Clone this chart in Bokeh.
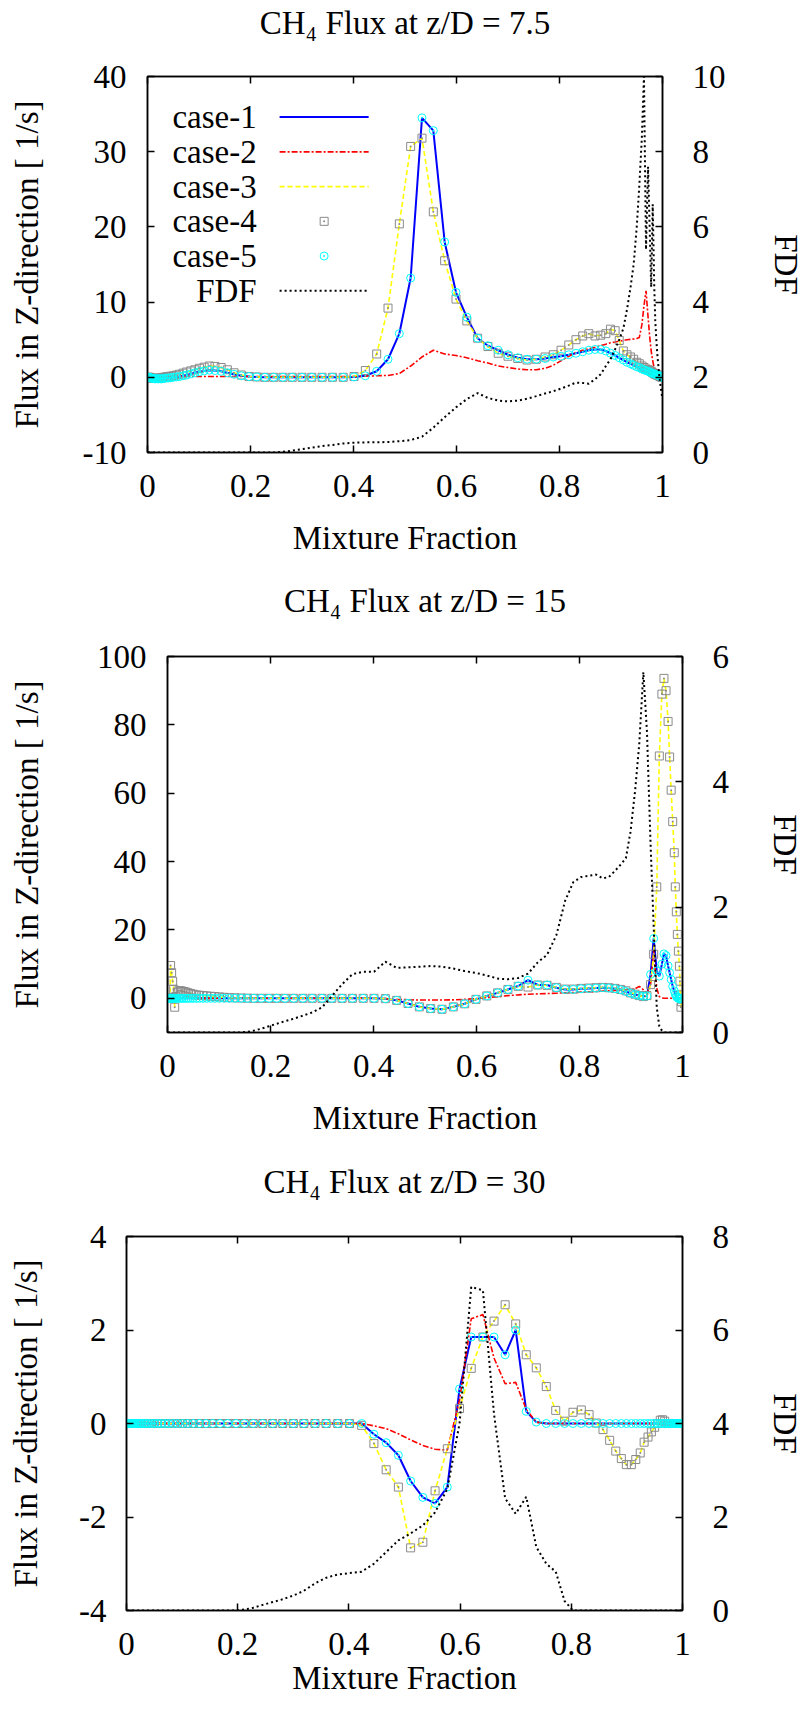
import math
from bokeh.plotting import figure
from bokeh.models import Range1d, LinearAxis, FixedTicker, NumeralTickFormatter, ColumnDataSource, Title
from bokeh.embed import file_html
from bokeh.resources import INLINE
from bokeh.core.properties import value

FONT = "'Liberation Serif'"
FS = "33px"

# ---------------- data ----------------
mix_frac = [
    0.001, 0.002, 0.003, 0.004, 0.005, 0.006, 0.008, 0.010, 0.012, 0.014,
    0.016, 0.019, 0.022, 0.025, 0.028, 0.032, 0.036, 0.040, 0.045, 0.050,
    0.056, 0.062, 0.069, 0.076, 0.084, 0.092, 0.101, 0.110, 0.120, 0.131,
    0.143, 0.155, 0.168, 0.182, 0.197, 0.212, 0.228, 0.245, 0.263, 0.281,
    0.300, 0.319, 0.339, 0.359, 0.380, 0.401, 0.423, 0.445, 0.467, 0.489,
    0.511, 0.533, 0.555, 0.577, 0.599, 0.620, 0.641, 0.661, 0.681, 0.700,
    0.719, 0.737, 0.755, 0.772, 0.788, 0.803, 0.818, 0.832, 0.845, 0.857,
    0.869, 0.880, 0.890, 0.899, 0.908, 0.916, 0.924, 0.931, 0.938, 0.944,
    0.950, 0.955, 0.960, 0.964, 0.968, 0.972, 0.975, 0.978, 0.981, 0.984,
    0.986, 0.988, 0.990, 0.992, 0.994, 0.995, 0.996, 0.997, 0.998, 0.999,
]

# z/D = 7.5
p1_case1 = [
    0, 0, 0, -0.05, -0.05, -0.1, -0.1, -0.15, -0.15, -0.2,
    -0.2, -0.2, -0.2, -0.2, -0.2, -0.15, -0.1, -0.1, -0.05, 0.0,
    0.05, 0.1, 0.2, 0.3, 0.45, 0.6, 0.75, 0.85, 0.95, 0.9,
    0.8, 0.6, 0.4, 0.2, 0.1, 0.05, 0, 0, 0, 0,
    0, 0, 0, 0, 0, 0.05, 0.2, 0.8, 2.4, 5.8,
    13.2, 34.5, 32.8, 18.0, 11.3, 8.0, 5.2, 4.2, 3.6, 3.0,
    2.6, 2.4, 2.4, 2.5, 2.7, 2.8, 3.0, 3.2, 3.4, 3.6,
    3.7, 3.7, 3.5, 3.2, 2.9, 2.6, 2.3, 2.0, 1.8, 1.6,
    1.4, 1.3, 1.1, 1.0, 0.9, 0.8, 0.7, 0.6, 0.5, 0.45,
    0.4, 0.35, 0.3, 0.25, 0.2, 0.15, 0.12, 0.08, 0.05, 0.0,
]
p1_case2 = [
    0, 0, 0, 0, 0, 0, 0, 0, 0.05, 0.05,
    0.05, 0.05, 0.1, 0.1, 0.1, 0.1, 0.1, 0.1, 0.1, 0.1,
    0.1, 0.1, 0.1, 0.1, 0.1, 0.1, 0.1, 0.1, 0.1, 0.1,
    0.1, 0.1, 0.1, 0.1, 0.1, 0.1, 0.1, 0.1, 0.1, 0.1,
    0.1, 0.1, 0.1, 0.1, 0.1, 0.1, 0.15, 0.2, 0.25, 0.5,
    1.5, 2.7, 3.6, 3.1, 2.9, 2.6, 2.2, 1.9, 1.5, 1.3,
    1.1, 1.0, 1.0, 1.2, 1.6, 2.2, 2.8, 3.3, 3.6, 3.8,
    4.0, 4.2, 4.4, 4.6, 4.7, 4.8, 4.9, 5.0, 5.05, 5.1,
    5.15, 5.3, 7.0, 9.5, 11.5, 8.0, 5.5, 3.5, 2.2, 1.2,
    0.8, 0.5, 0.3, 0.2, 0.15, 0.1, 0.05, 0, 0, 0,
]
p1_case3 = [
    0, 0, 0, -0.05, -0.05, -0.1, -0.1, -0.15, -0.15, -0.15,
    -0.15, -0.15, -0.1, -0.1, -0.05, 0.0, 0.05, 0.1, 0.15, 0.2,
    0.3, 0.4, 0.55, 0.7, 0.85, 1.0, 1.2, 1.35, 1.5, 1.45,
    1.3, 1.0, 0.6, 0.3, 0.1, 0.05, 0, 0, 0, 0,
    0, 0, 0, 0, 0, 0.1, 0.9, 3.1, 9.2, 20.4,
    30.7, 31.8, 22.0, 15.5, 10.4, 7.5, 5.2, 4.1, 3.2, 2.8,
    2.5, 2.3, 2.4, 2.7, 3.0, 3.6, 4.3, 5.0, 5.5, 5.8,
    5.5, 5.6, 5.8, 6.4, 6.2, 4.9, 3.5, 3.0, 2.7, 2.4,
    2.0, 1.8, 1.5, 1.3, 1.1, 1.0, 0.9, 0.8, 0.6, 0.5,
    0.4, 0.35, 0.3, 0.25, 0.2, 0.15, 0.1, 0.08, 0.05, 0.0,
]
p1_case4 = list(p1_case3)
p1_case5 = list(p1_case1)
p1_fdf = [
    0, 0, 0, 0, 0, 0, 0, 0, 0, 0,
    0, 0, 0, 0, 0, 0, 0, 0, 0, 0,
    0, 0, 0, 0, 0, 0, 0, 0, 0, 0,
    0, 0, 0, 0, 0, 0, 0, 0, 0.02, 0.05,
    0.09, 0.13, 0.17, 0.2, 0.24, 0.26, 0.27, 0.27, 0.28, 0.3,
    0.33, 0.42, 0.66, 0.94, 1.2, 1.42, 1.58, 1.45, 1.38, 1.36,
    1.38, 1.43, 1.5, 1.57, 1.63, 1.7, 1.78, 1.86, 1.85, 1.83,
    1.95, 2.08, 2.3, 2.48, 2.75, 3.0, 3.3, 3.8, 4.4, 5.0,
    6.0, 7.1, 8.4, 10.0, 5.4, 7.6, 6.0, 4.4, 6.6, 4.4,
    3.5, 3.0, 2.6, 2.3, 2.0, 1.9, 1.8, 1.7, 1.6, 1.5,
]

# z/D = 15
p2_case1 = [
    0, 0, 0, 0, 0, 0, 0, 0, 0, 0,
    0, 0, 0, 0, 0, 0, 0, 0, 0, 0,
    0, 0, 0, 0, 0, 0, 0, 0, 0, 0,
    0, 0, 0, 0, 0, 0, 0, 0, 0, 0,
    0, 0, 0, 0, 0, 0, -0.1, -0.6, -1.5, -2.5,
    -3.0, -3.2, -2.5, -1.6, -0.3, 0.7, 1.6, 2.6, 3.6, 5.3,
    3.9, 3.9, 3.1, 2.6, 2.6, 2.8, 2.9, 3.0, 3.1, 3.0,
    2.8, 2.5, 2.0, 1.5, 1.1, 0.8, 0.6, 0.7, 7.0, 17.5,
    8.0, 6.5, 10.0, 13.0, 12.5, 9.5, 7.5, 5.5, 3.5, 2.2,
    1.2, 0.6, 0.2, 0.0, -0.2, -0.1, 0, 0, 0, 0,
]
p2_case2 = [
    0, 0, 0, 0, 0, 0, 0, 0, 0, 0,
    0, 0, 0, 0, 0, 0, 0, 0, 0, 0,
    0, 0, 0, 0, 0, 0, 0, 0, 0, 0,
    0, 0, 0, 0, 0, 0, 0, 0, 0, 0,
    0, 0, 0, 0, 0, 0, -0.1, -0.3, -0.4, -0.5,
    -0.5, -0.5, -0.45, -0.3, -0.1, 0.2, 0.5, 0.8, 1.0, 1.2,
    1.3, 1.4, 1.5, 1.6, 1.7, 1.8, 1.9, 2.0, 2.1, 2.2,
    2.3, 2.4, 2.5, 2.6, 2.8, 3.5, 2.5, 1.5, 4.0, 14.0,
    3.0, 0.5, 0.1, 0, 0, 0, 0, 0, 0, 0,
    0, 0, 0, 0, 0, 0, 0, 0, 0, 0,
]
p2_case3 = [
    0, 0, 0, 0, 0, 9.6, 7.5, 5.0, 2.6, -2.6,
    0.5, 1.8, 2.2, 2.2, 2.1, 2.0, 1.8, 1.6, 1.4, 1.2,
    1.0, 0.9, 0.8, 0.7, 0.6, 0.5, 0.4, 0.3, 0.2, 0.15,
    0.1, 0.05, 0, 0, 0, 0, 0, 0, 0, 0,
    0, 0, 0, 0, 0, 0, -0.1, -0.6, -1.5, -2.5,
    -3.0, -3.2, -2.5, -1.6, -0.3, 0.7, 1.6, 2.6, 3.5, 3.3,
    3.9, 3.8, 3.2, 2.7, 2.7, 2.9, 3.0, 3.1, 3.2, 3.1,
    2.9, 2.6, 2.2, 1.6, 1.2, 0.8, 0.5, 0.8, 4.0, 12.9,
    32.6, 70.9, 89.0, 93.6, 90.0, 81.0, 70.6, 60.9, 51.7, 42.6,
    32.6, 25.3, 18.7, 13.8, 9.4, 5.0, 1.0, -2.6, -1.0, 0.0,
]
p2_case4 = list(p2_case3)
p2_case5 = list(p2_case1)
p2_fdf = [
    0, 0, 0, 0, 0, 0, 0, 0, 0, 0,
    0, 0, 0, 0, 0, 0, 0, 0, 0, 0,
    0, 0, 0, 0, 0, 0, 0, 0, 0, 0,
    0, 0.01, 0.03, 0.06, 0.1, 0.14, 0.18, 0.22, 0.27, 0.32,
    0.4, 0.58, 0.77, 0.93, 0.97, 0.97, 1.13, 1.03, 1.04, 1.05,
    1.06, 1.05, 1.02, 0.98, 0.95, 0.91, 0.86, 0.85, 0.87, 0.94,
    1.12, 1.24, 1.55, 2.1, 2.4, 2.48, 2.5, 2.52, 2.46, 2.48,
    2.58, 2.68, 2.78, 3.2, 3.86, 4.6, 5.75, 4.8, 3.0, 1.7,
    0.4, 0.1, 0.03, 0, 0, 0, 0, 0, 0, 0,
    0, 0, 0, 0, 0, 0, 0, 0, 0, 0,
]

# z/D = 30
p3_case1 = [
    0, 0, 0, 0, 0, 0, 0, 0, 0, 0,
    0, 0, 0, 0, 0, 0, 0, 0, 0, 0,
    0, 0, 0, 0, 0, 0, 0, 0, 0, 0,
    0, 0, 0, 0, 0, 0, 0, 0, 0, 0,
    0, 0, 0, 0, 0, 0, 0, -0.23, -0.41, -0.68,
    -1.23, -1.58, -1.71, -1.36, 0.74, 1.85, 1.85, 1.85, 1.47, 2.0,
    0.26, 0.03, 0, 0, 0, 0, 0, 0, 0, 0,
    0, 0, 0, 0, 0, 0, 0, 0, 0, 0,
    0, 0, 0, 0, 0, 0, 0, 0, 0, 0,
    0, 0, 0, 0, 0, 0, 0, 0, 0, 0,
]
p3_case2 = [
    0, 0, 0, 0, 0, 0, 0, 0, 0, 0,
    0, 0, 0, 0, 0, 0, 0, 0, 0, 0,
    0, 0, 0, 0, 0, 0, 0, 0, 0, 0,
    0, 0, 0, 0, 0, 0, 0, 0, 0, 0,
    0, 0, 0, 0, 0, 0, 0, -0.05, -0.11, -0.22,
    -0.35, -0.47, -0.55, -0.57, 0.5, 2.24, 2.33, 1.4, 0.85, 0.88,
    0.3, 0.03, 0, 0, 0, 0, 0, 0, 0, 0,
    0, 0, 0, 0, 0, 0, 0, 0, 0, 0,
    0, 0, 0, 0, 0, 0, 0, 0, 0, 0,
    0, 0, 0, 0, 0, 0, 0, 0, 0, 0,
]
p3_case3 = [
    0, 0, 0, 0, 0, 0, 0, 0, 0, 0,
    0, 0, 0, 0, 0, 0, 0, 0, 0, 0,
    0, 0, 0, 0, 0, 0, 0, 0, 0, 0,
    0, 0, 0, 0, 0, 0, 0, 0, 0, 0,
    0, 0, 0, 0, 0, 0, -0.04, -0.43, -0.99, -1.36,
    -2.66, -2.54, -1.44, -0.54, 0.32, 1.18, 1.85, 2.19, 2.54, 2.13,
    1.47, 1.19, 0.79, 0.28, 0.05, 0.24, 0.29, 0.19, 0.01, -0.13,
    -0.36, -0.59, -0.75, -0.88, -0.88, -0.77, -0.63, -0.4, -0.29, -0.18,
    -0.08, 0.0, 0.07, 0.08, 0.05, 0, 0, 0, 0, 0,
    0, 0, 0, 0, 0, 0, 0, 0, 0, 0,
]
p3_case4 = list(p3_case3)
p3_case5 = list(p3_case1)
p3_fdf = [
    0, 0, 0, 0, 0, 0, 0, 0, 0, 0,
    0, 0, 0, 0, 0, 0, 0, 0, 0, 0,
    0, 0, 0, 0, 0, 0, 0, 0, 0, 0,
    0, 0, 0, 0, 0, 0.02, 0.06, 0.12, 0.18, 0.24,
    0.32, 0.42, 0.58, 0.7, 0.77, 0.8, 0.83, 1.0, 1.25, 1.5,
    1.65, 1.82, 2.1, 2.6, 4.0, 6.92, 6.85, 4.2, 2.4, 2.07,
    2.43, 1.36, 1.0, 0.83, 0.2, 0, 0, 0, 0, 0,
    0, 0, 0, 0, 0, 0, 0, 0, 0, 0,
    0, 0, 0, 0, 0, 0, 0, 0, 0, 0,
    0, 0, 0, 0, 0, 0, 0, 0, 0, 0,
]

titles = ["CH\u2084 Flux at z/D = 7.5", "CH\u2084 Flux at z/D = 15", "CH\u2084 Flux at z/D = 30"]
x_ticks = [0, 0.2, 0.4, 0.6, 0.8, 1]
x_label = "Mixture Fraction"
y_label = "Flux in Z-direction [ 1/s]"
y2_label = "FDF"
legend_labels = ["case-1", "case-2", "case-3", "case-4", "case-5", "FDF"]

# ---------------- styles ----------------
W = 806
C1 = dict(line_color="#0000ff", line_width=2)
C2 = dict(line_color="#ff0000", line_width=1.6, line_dash="6 2 2 2")
C3 = dict(line_color="#ffff00", line_width=1.6, line_dash="5 3")
C4 = dict(marker="square_dot", size=8, line_color="#8a8a8a", fill_color=None, line_width=1)
C5 = dict(marker="circle_dot", size=8, line_color="#00ffff", fill_color=None, line_width=1)
CF = dict(line_color="#000000", line_width=2, line_dash="2 3")


def style_axis(ax, standoff):
    ax.major_label_text_font = FONT
    ax.major_label_text_font_size = FS
    ax.major_label_text_color = "black"
    ax.axis_label_text_font = FONT
    ax.axis_label_text_font_size = FS
    ax.axis_label_text_font_style = "normal"
    ax.axis_label_text_color = "black"
    ax.major_tick_in = 7
    ax.major_tick_out = 0
    ax.minor_tick_in = 0
    ax.minor_tick_out = 0
    ax.major_tick_line_color = "black"
    ax.major_tick_line_width = 1.5
    ax.axis_line_color = "black"
    ax.axis_line_width = 1.5
    ax.major_label_standoff = int(round(standoff))


def quiet_axis(ax, tick_out):
    # label-less axis: mirrored ticks, or (with invisible ticks) a fixed-size spacer
    style_axis(ax, 0)
    ax.major_label_text_color = None
    ax.major_label_text_font_size = "1px"
    ax.major_tick_out = int(tick_out)


def spacer(gap):
    s = LinearAxis(ticker=FixedTicker(ticks=[0.5]))
    quiet_axis(s, gap)
    s.major_tick_in = 0
    s.major_tick_line_color = None
    s.axis_line_color = None
    return s


def text_title(text):
    return Title(text=text, align="center", vertical_align="bottom", standoff=0,
                 text_font=FONT, text_font_size=FS, text_font_style="normal",
                 text_color="black")


def make_panel(title, ylim, yticks, flim, fticks, c1, c2, c3, c4, c5, fdf,
               height, borders, standoffs, label_standoffs, top_gap, bottom_gap, legend=False):
    bl, br, bt, bb = borders
    p = figure(width=W, height=height, output_backend="svg", toolbar_location=None,
               x_range=Range1d(0, 1), y_range=Range1d(*ylim),
               min_border_left=bl, min_border_right=br,
               min_border_top=bt, min_border_bottom=bb)
    p.extra_y_ranges = {"fdf": Range1d(*flim)}
    p.xgrid.visible = False
    p.ygrid.visible = False
    p.outline_line_color = "black"
    p.outline_line_width = 1.5
    p.background_fill_color = "white"
    p.border_fill_color = "white"

    xa = p.xaxis[0]   # the default bottom axis
    ya = p.yaxis[0]   # the default left axis
    ls, bs, rs = standoffs
    lls, rls = label_standoffs

    # top: mirrored ticks, a spacer, then the chart title
    ta = LinearAxis(ticker=FixedTicker(ticks=x_ticks))
    quiet_axis(ta, 0)
    p.add_layout(ta, "above")
    p.add_layout(spacer(top_gap), "above")
    p.add_layout(text_title(title), "above")

    # bottom: tick labels, a spacer, then the x title
    xa.ticker = FixedTicker(ticks=x_ticks)
    xa.formatter = NumeralTickFormatter(format="0.[0]")
    style_axis(xa, bs)
    if bottom_gap:
        p.add_layout(spacer(bottom_gap), "below")
    p.add_layout(text_title(x_label), "below")

    ya.ticker = FixedTicker(ticks=yticks)
    ya.formatter = NumeralTickFormatter(format="0")
    ya.axis_label = y_label
    style_axis(ya, ls)
    ya.axis_label_standoff = int(round(lls))

    ra = LinearAxis(y_range_name="fdf", ticker=FixedTicker(ticks=fticks),
                    formatter=NumeralTickFormatter(format="0"), axis_label=y2_label)
    style_axis(ra, rs)
    ra.axis_label_standoff = int(round(rls))
    p.add_layout(ra, "right")

    src = ColumnDataSource(dict(x=mix_frac, c1=c1, c2=c2, c3=c3, c4=c4, c5=c5, fdf=fdf))
    p.line("x", "c1", source=src, **C1)
    p.line("x", "c2", source=src, **C2)
    p.line("x", "c3", source=src, **C3)
    p.scatter("x", "c4", source=src, **C4)
    p.scatter("x", "c5", source=src, **C5)
    p.line("x", "fdf", source=src, y_range_name="fdf", **CF)

    if legend:
        # legend block, anchored in frame fractions (gnuplot-style: text left, sample right)
        y0, y1 = ylim
        span = y1 - y0
        top = y1 - 0.108 * span
        step = 0.0924 * span
        tx = 0.212
        sx0, sx1, sxm = 0.2565, 0.4294, 0.343
        ys = [top - i * step for i in range(len(legend_labels))]
        p.text(x=[tx] * len(legend_labels), y=ys, text=legend_labels,
               text_align="right", text_baseline="middle",
               text_font=value(FONT), text_font_size=FS, text_color="black")
        p.line([sx0, sx1], [ys[0], ys[0]], **C1)
        p.line([sx0, sx1], [ys[1], ys[1]], **C2)
        p.line([sx0, sx1], [ys[2], ys[2]], **C3)
        p.scatter([sxm], [ys[3]], **C4)
        p.scatter([sxm], [ys[4]], **C5)
        p.line([sx0, sx1], [ys[5], ys[5]], **CF)
    return p


p1 = make_panel(titles[0], (-10, 40), [-10, 0, 10, 20, 30, 40], (0, 10), [0, 2, 4, 6, 8, 10],
                p1_case1, p1_case2, p1_case3, p1_case4, p1_case5, p1_fdf,
                570, (147, 139, 76, 118), (21, 22, 30), (35, 39), 36, 18, legend=True)
p2 = make_panel(titles[1], (-10, 100), [0, 20, 40, 60, 80, 100], (0, 6), [0, 2, 4, 6],
                p2_case1, p2_case2, p2_case3, p2_case4, p2_case5, p2_fdf,
                580, (167, 118, 86, 118), (21, 22, 30), (49, 35), 38, 18)
p3 = make_panel(titles[2], (-4, 4), [-4, -2, 0, 2, 4], (0, 8), [0, 2, 4, 6, 8],
                p3_case1, p3_case2, p3_case3, p3_case4, p3_case5, p3_fdf,
                565, (126, 118, 86, 105), (20, 22, 30), (32, 35), 37, 0)

open("out.html", "w").write(file_html([p1, p2, p3], INLINE, "CH4 Flux"))
